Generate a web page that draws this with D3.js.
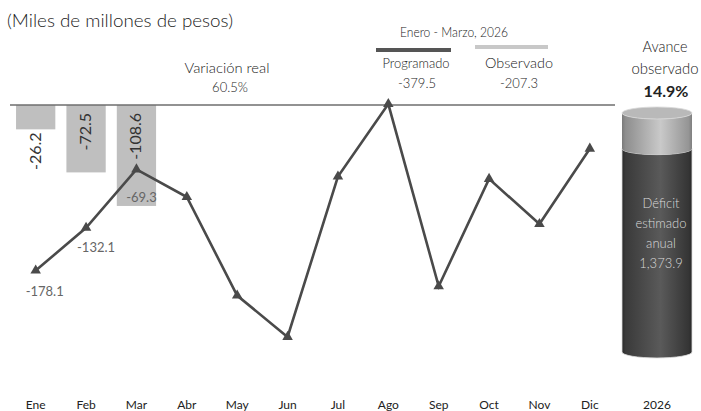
<!DOCTYPE html>
<html><head><meta charset="utf-8">
<script src="https://cdn.jsdelivr.net/npm/d3@7"></script>
<style>body{margin:0;background:#fff}svg{display:block}text{font-family:Lato,"Open Sans",sans-serif;font-weight:300}</style>
</head><body><svg id="c" width="701" height="411"></svg>
<script>
const months = ["Ene","Feb","Mar","Abr","May","Jun","Jul","Ago","Sep","Oct","Nov","Dic"];
const programado = [-178.1,-132.1,-69.3,-99,-205,-249.5,-77,1,-195,-79.5,-128,-47];
const observado = [-26.2,-72.5,-108.6];
const totalProgramado = "-379.5";
const totalObservado = "-207.3";
const variacion = "60.5%";
const annualDeficit = 1373.9;
const avancePct = 14.9;
const yearLabel = "2026";

const svg = d3.select("#c");
const x = d3.scaleBand().domain(months).range([10.5, 615]).paddingInner(0.22).paddingOuter(0.11);
const y = d3.scaleLinear().domain([-270, 0]).range([356, 105]);
const cx = m => x(m) + x.bandwidth()/2;

function fit(sel, w){ sel.attr("textLength", w).attr("lengthAdjust","spacingAndGlyphs"); return sel; }

// title
fit(svg.append("text").attr("x",7).attr("y",27).attr("font-size",18).attr("fill","#222").text("(Miles de millones de pesos)"),226);

// bars
svg.append("g").selectAll("rect").data(observado).join("rect")
  .attr("x",(d,i)=>x(months[i])).attr("width",x.bandwidth())
  .attr("y",y(0)).attr("height",d=>y(d)-y(0)).attr("fill","#bfbfbf");

// baseline
svg.append("line").attr("x1",10).attr("x2",615).attr("y1",y(0)).attr("y2",y(0)).attr("stroke","#6e6e6e").attr("stroke-width",1.5);

// bar labels rotated
svg.append("g").selectAll("text").data(observado).join("text")
  .attr("transform",(d,i)=>{const h=y(d)-y(0); const ty = h<40 ? y(d)+3 : y(0)+8; return `translate(${cx(months[i])+5},${ty}) rotate(-90)`;})
  .attr("text-anchor","end").attr("font-size",16).style("font-weight",400).attr("fill","#333").text(d=>d.toFixed(1));

// line
const line = d3.line().x((d,i)=>cx(months[i])).y(d=>y(d));
svg.append("path").datum(programado).attr("d",line).attr("fill","none").attr("stroke","#4a4a4a").attr("stroke-width",2.6).attr("stroke-linejoin","miter");
svg.append("g").selectAll("path").data(programado).join("path")
  .attr("d",d3.symbol(d3.symbolTriangle,48)).attr("transform",(d,i)=>`translate(${cx(months[i])},${y(d)})`).attr("fill","#4a4a4a");

// point labels for Ene-Mar
const lblOff = [[9,25],[10,24],[5,33]];
svg.append("g").selectAll("text").data(programado.slice(0,3)).join("text")
  .attr("x",(d,i)=>cx(months[i])+lblOff[i][0]).attr("y",(d,i)=>y(d)+lblOff[i][1])
  .attr("text-anchor","middle").attr("font-size",13).style("font-weight",400).attr("fill","#666").text(d=>d.toFixed(1));

// x axis labels
const xa = d3.axisBottom(x).tickSize(0).tickPadding(0);
const gx = svg.append("g").attr("transform","translate(0,400)").call(xa);
gx.select(".domain").remove();
gx.selectAll("text").attr("font-size",12).attr("fill","#222").attr("font-family","Lato,sans-serif").style("font-weight",400);
svg.append("text").attr("x",657).attr("y",409).attr("text-anchor","middle").attr("font-size",12).style("font-weight",400).attr("fill","#222").text(yearLabel);

// annotations
fit(svg.append("text").attr("x",227).attr("y",73).attr("text-anchor","middle").attr("font-size",14).attr("fill","#222").text("Variación real"),85);
svg.append("text").attr("x",230).attr("y",92).attr("text-anchor","middle").attr("font-size",13).attr("fill","#222").text(variacion);
fit(svg.append("text").attr("x",454).attr("y",37).attr("text-anchor","middle").attr("font-size",13).attr("fill","#222").text("Enero - Marzo, 2026"),108);
svg.append("line").attr("x1",376).attr("x2",451).attr("y1",50).attr("y2",50).attr("stroke","#555").attr("stroke-width",4);
svg.append("line").attr("x1",475).attr("x2",548).attr("y1",47).attr("y2",47).attr("stroke","#c8c8c8").attr("stroke-width",4);
fit(svg.append("text").attr("x",416).attr("y",68).attr("text-anchor","middle").attr("font-size",13).attr("fill","#222").text("Programado"),67);
fit(svg.append("text").attr("x",519).attr("y",68).attr("text-anchor","middle").attr("font-size",13).attr("fill","#222").text("Observado"),68);
svg.append("text").attr("x",417).attr("y",88).attr("text-anchor","middle").attr("font-size",13).attr("fill","#222").text(totalProgramado);
svg.append("text").attr("x",519).attr("y",88).attr("text-anchor","middle").attr("font-size",13).attr("fill","#222").text(totalObservado);

fit(svg.append("text").attr("x",665).attr("y",52).attr("text-anchor","middle").attr("font-size",15).attr("fill","#222").text("Avance"),45);
fit(svg.append("text").attr("x",665).attr("y",74).attr("text-anchor","middle").attr("font-size",15).attr("fill","#222").text("observado"),67);
svg.append("text").attr("x",666).attr("y",97).attr("text-anchor","middle").attr("font-size",16).style("font-weight",700).attr("fill","#222").text(avancePct.toFixed(1)+"%");

// cylinder
const defs = svg.append("defs");
function grad(id, stops){ const g=defs.append("linearGradient").attr("id",id).attr("x1","0").attr("x2","1").attr("y1","0").attr("y2","0");
  stops.forEach(s=>g.append("stop").attr("offset",s[0]).attr("stop-color",s[1])); }
grad("dark",[[0,"#2a2a2a"],[0.05,"#3a3a3a"],[0.55,"#5a5a5a"],[0.95,"#353535"],[1,"#2a2a2a"]]);
grad("light",[[0,"#7a7a7a"],[0.05,"#8e8e8e"],[0.55,"#c9c9c9"],[0.95,"#959595"],[1,"#808080"]]);
const cyl = {x0:622, x1:692, ry:6};
const cy = d3.scaleLinear().domain([0, annualDeficit]).range([352, 113]);
const ccx = (cyl.x0+cyl.x1)/2, rx=(cyl.x1-cyl.x0)/2;
const split = cy(annualDeficit*(1-avancePct/100));
function seg(yTop, yBot){ return `M${cyl.x0},${yTop} A${rx},${cyl.ry} 0 0 0 ${cyl.x1},${yTop} L${cyl.x1},${yBot} A${rx},${cyl.ry} 0 0 1 ${cyl.x0},${yBot} Z`; }
svg.append("path").attr("d",seg(split, cy(0))).attr("fill","url(#dark)").attr("stroke","#ddd").attr("stroke-width",0.8);
svg.append("path").attr("d",seg(cy(annualDeficit), split)).attr("fill","url(#light)");
svg.append("ellipse").attr("cx",ccx).attr("cy",cy(annualDeficit)).attr("rx",rx).attr("ry",cyl.ry).attr("fill","#b9b9b9").attr("stroke","#d8d8d8").attr("stroke-width",0.8);

const cylText = ["Déficit","estimado","anual", d3.format(",.1f")(annualDeficit)];
svg.append("g").selectAll("text").data(cylText).join("text")
  .attr("x",661).attr("y",(d,i)=>208+i*20).attr("text-anchor","middle").attr("font-size",13).attr("fill","#d9d9d9").text(d=>d);
</script></body></html>
